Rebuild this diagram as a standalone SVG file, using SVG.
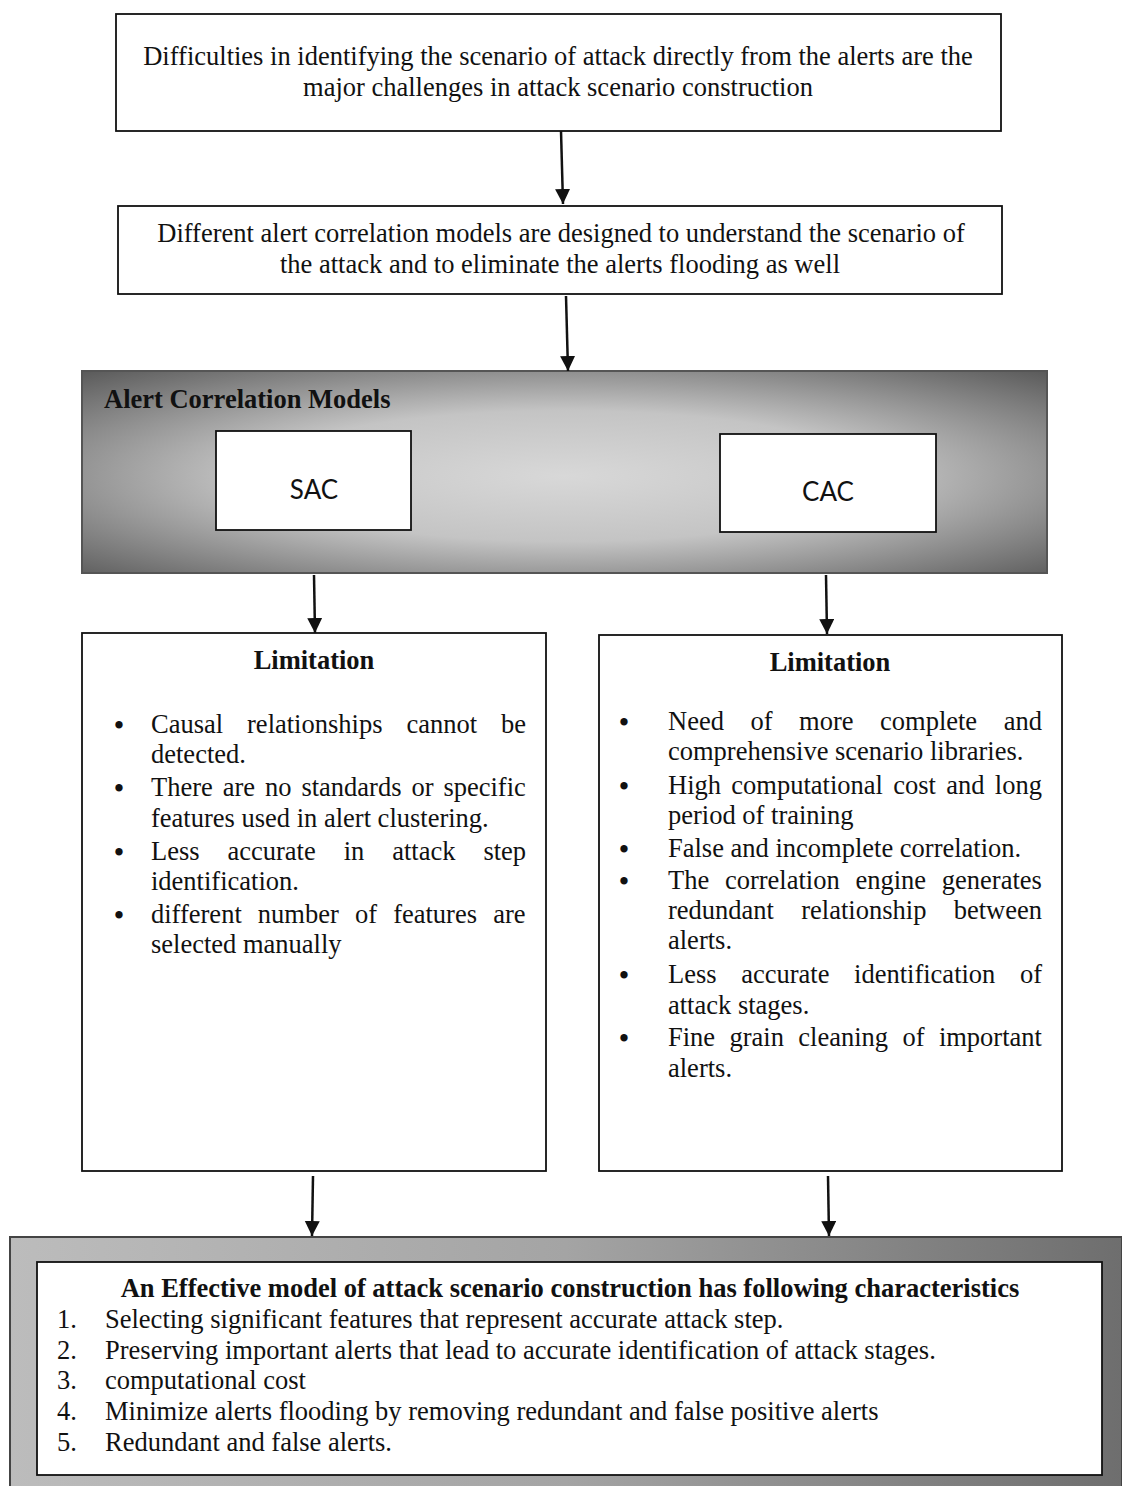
<svg xmlns="http://www.w3.org/2000/svg" width="1122" height="1486" viewBox="0 0 1122 1486">
<defs>
<style>
.t{font-family:"Liberation Serif","Times New Roman",serif;font-size:26.5px;fill:#111}
.b{font-family:"Liberation Serif","Times New Roman",serif;font-size:26.5px;font-weight:bold;fill:#111}
.c{text-anchor:middle}
.u{font-family:"Liberation Serif","Times New Roman",serif;font-size:27px;font-weight:bold;fill:#111;text-anchor:middle}
.box{fill:#fff;stroke:#111;stroke-width:1.8}
.s{font-family:Lato,"Liberation Sans",sans-serif;font-size:26px;fill:#111;text-anchor:middle}
.conn line{stroke:#111;stroke-width:2.5;marker-end:url(#ah)}
</style>
<marker id="ah" markerUnits="userSpaceOnUse" markerWidth="16" markerHeight="16" refX="15" refY="7.5" orient="auto">
<path d="M0,0 L15,7.5 L0,15 z" fill="#111"/>
</marker>
<radialGradient id="g1" cx="50%" cy="52%" r="72%">
<stop offset="0" stop-color="#d8d8d8"/>
<stop offset="0.45" stop-color="#c4c4c4"/>
<stop offset="1" stop-color="#5a5a5a"/>
</radialGradient>
<linearGradient id="g2" x1="0" y1="0" x2="1" y2="0">
<stop offset="0" stop-color="#bcbcbc"/>
<stop offset="0.5" stop-color="#a4a4a4"/>
<stop offset="1" stop-color="#6e6e6e"/>
</linearGradient>
</defs>
<rect width="1122" height="1486" fill="#fff"/>

<g id="n1">
<rect class="box" x="116" y="14" width="885" height="117"/>
<text class="t c" x="558" y="65">Difficulties in identifying the scenario of attack directly from the alerts are the</text>
<text class="t c" x="558" y="96">major challenges in attack scenario construction</text>
</g>

<g id="n2">
<rect class="box" x="118" y="206" width="884" height="88"/>
<text class="t c" x="561" y="242">Different alert correlation models are designed to understand the scenario of</text>
<text class="t c" x="560" y="273">the attack and to eliminate the alerts flooding as well</text>
</g>

<g id="n3">
<rect x="82" y="371" width="965" height="202" fill="url(#g1)" stroke="#555" stroke-width="2"/>
<text class="b" x="104" y="408">Alert Correlation Models</text>
</g>
<g id="sac">
<rect class="box" x="216" y="431" width="195" height="99" stroke-width="2"/>
<text class="s" x="314" y="499">SAC</text>
</g>
<g id="cac">
<rect class="box" x="720" y="434" width="216" height="98" stroke-width="2"/>
<text class="s" x="828" y="501">CAC</text>
</g>

<g id="lim1">
<rect class="box" x="82" y="633" width="464" height="538"/>
<text class="b c" x="314" y="669">Limitation</text>
<text class="u" x="119" y="734">•</text>
<text class="t" x="151" y="733" word-spacing="17.3">Causal relationships cannot be</text>
<text class="t" x="151" y="763">detected.</text>
<text class="u" x="119" y="797">•</text>
<text class="t" x="151" y="796" word-spacing="3.3">There are no standards or specific</text>
<text class="t" x="151" y="827">features used in alert clustering.</text>
<text class="u" x="119" y="861">•</text>
<text class="t" x="151" y="860" word-spacing="21.3">Less accurate in attack step</text>
<text class="t" x="151" y="890">identification.</text>
<text class="u" x="119" y="924">•</text>
<text class="t" x="151" y="923" word-spacing="9.5">different number of features are</text>
<text class="t" x="151" y="953">selected manually</text>
</g>

<g id="lim2">
<rect class="box" x="599" y="635" width="463" height="536"/>
<text class="b c" x="830" y="671">Limitation</text>
<text class="u" x="624" y="731">•</text>
<text class="t" x="668" y="730" word-spacing="19.9">Need of more complete and</text>
<text class="t" x="668" y="760">comprehensive scenario libraries.</text>
<text class="u" x="624" y="795">•</text>
<text class="t" x="668" y="794" word-spacing="3.7">High computational cost and long</text>
<text class="t" x="668" y="824">period of training</text>
<text class="u" x="624" y="858">•</text>
<text class="t" x="668" y="857">False and incomplete correlation.</text>
<text class="u" x="624" y="890">•</text>
<text class="t" x="668" y="889" word-spacing="9.1">The correlation engine generates</text>
<text class="t" x="668" y="919" word-spacing="20.7">redundant relationship between</text>
<text class="t" x="668" y="949">alerts.</text>
<text class="u" x="624" y="984">•</text>
<text class="t" x="668" y="983" word-spacing="18">Less accurate identification of</text>
<text class="t" x="668" y="1014">attack stages.</text>
<text class="u" x="624" y="1047">•</text>
<text class="t" x="668" y="1046" word-spacing="7.75">Fine grain cleaning of important</text>
<text class="t" x="668" y="1077">alerts.</text>
</g>

<g id="n6">
<rect x="10" y="1237" width="1112" height="260" fill="url(#g2)" stroke="#444" stroke-width="2"/>
<rect class="box" x="37" y="1262" width="1065" height="213" stroke-width="2"/>
<text class="b c" x="570" y="1297">An Effective model of attack scenario construction has following characteristics</text>
<text class="t" x="57" y="1328">1.</text>
<text class="t" x="105" y="1328">Selecting significant features that represent accurate attack step.</text>
<text class="t" x="57" y="1359">2.</text>
<text class="t" x="105" y="1359">Preserving important alerts that lead to accurate identification of attack stages.</text>
<text class="t" x="57" y="1389">3.</text>
<text class="t" x="105" y="1389">computational cost</text>
<text class="t" x="57" y="1420">4.</text>
<text class="t" x="105" y="1420">Minimize alerts flooding by removing redundant and false positive alerts</text>
<text class="t" x="57" y="1451">5.</text>
<text class="t" x="105" y="1451">Redundant and false alerts.</text>
</g>

<g id="connectors" class="conn">
<line x1="561" y1="131" x2="563" y2="204"/>
<line x1="566" y1="296" x2="568" y2="371"/>
<line x1="314" y1="575" x2="315" y2="633"/>
<line x1="826" y1="575" x2="827" y2="634"/>
<line x1="313" y1="1176" x2="312" y2="1236"/>
<line x1="828" y1="1176" x2="829" y2="1236"/>
</g>
</svg>
